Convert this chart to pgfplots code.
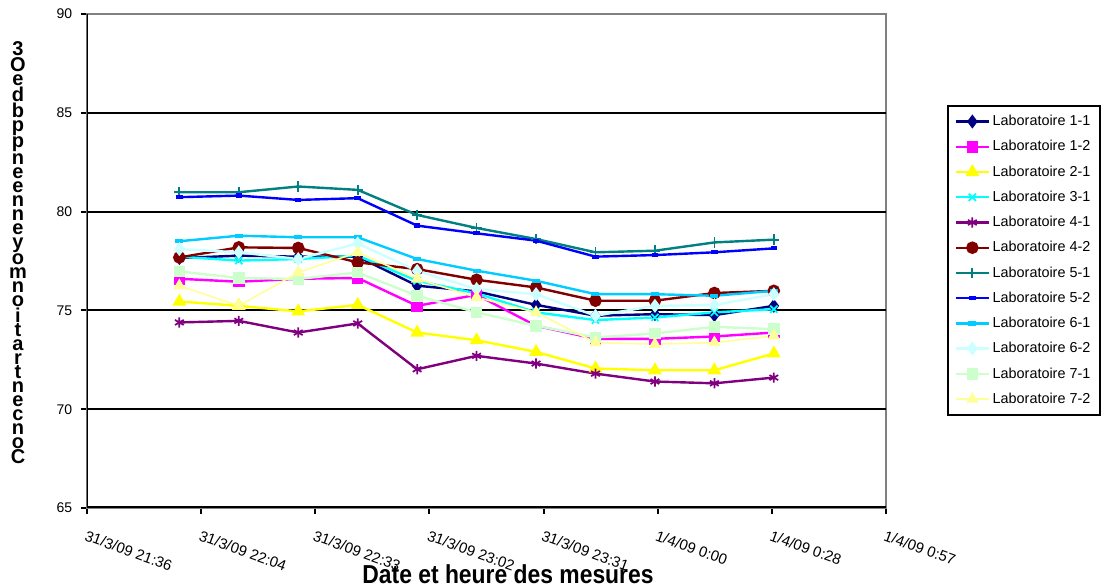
\documentclass[border=0pt]{standalone}
\usepackage{pgfplots}
\usepackage{pgfplotstable}
\pgfplotsset{compat=1.18}
\usepackage{fontspec}
\setmainfont{Liberation Sans}
\usetikzlibrary{plotmarks}

\definecolor{c11}{RGB}{0,0,128}
\definecolor{c12}{RGB}{255,0,255}
\definecolor{c21}{RGB}{255,255,0}
\definecolor{c31}{RGB}{0,255,255}
\definecolor{c41}{RGB}{128,0,128}
\definecolor{c42}{RGB}{128,0,0}
\definecolor{c51}{RGB}{0,128,128}
\definecolor{c52}{RGB}{0,0,255}
\definecolor{c61}{RGB}{0,204,255}
\definecolor{c62}{RGB}{204,255,255}
\definecolor{c71}{RGB}{204,255,204}
\definecolor{c72}{RGB}{255,255,153}

% minutes after 31/3/09 21:36
\pgfplotstableread{
t     l11   l12   l21   l31   l41   l42   l51   l52   l61   l62   l71   l72
23.3  77.65 76.60 75.45 77.72 74.39 77.68 80.98 80.73 78.50 78.10 76.97 76.25
38.3  77.77 76.45 75.23 77.52 74.47 78.19 80.98 80.81 78.78 77.94 76.64 75.23
53.3  77.72 76.60 74.95 77.60 73.88 78.16 81.27 80.59 78.70 77.60 76.59 76.92
68.3  77.72 76.64 75.28 77.77 74.34 77.43 81.10 80.68 78.70 78.39 76.92 77.94
83.3  76.25 75.23 73.88 76.50 72.02 77.09 79.83 79.29 77.60 77.00 75.74 76.59
98.3  75.96 75.79 73.49 75.86 72.70 76.55 79.17 78.90 77.01 76.08 74.90 75.66
113.3 75.28 74.22 72.90 74.90 72.31 76.16 78.61 78.53 76.50 75.82 74.22 74.90
128.3 74.73 73.56 72.06 74.51 71.80 75.49 77.94 77.72 75.82 74.73 73.63 73.37
143.3 74.81 73.56 71.97 74.64 71.40 75.49 78.02 77.80 75.82 75.23 73.83 73.29
158.3 74.76 73.68 71.97 74.90 71.31 75.88 78.44 77.94 75.74 75.27 74.17 73.37
173.3 75.23 73.88 72.82 75.06 71.60 75.99 78.58 78.14 75.99 75.82 74.05 73.71
}\labdata

\begin{document}
\begin{tikzpicture}
\useasboundingbox (-65.25pt,-60pt) rectangle (762.75pt,381pt);
\begin{axis}[
  at={(0,0)}, anchor=south west,
  scale only axis, width=599.25pt, height=370.5pt,
  xmin=0, xmax=201.6, ymin=65, ymax=90,
  axis line style={draw=gray, line width=0.8pt},
  tick align=outside, tick pos=left,
  major tick length=4.5pt,
  tick style={black, line width=1.5pt},
  xtick={0,28.8,57.6,86.4,115.2,144,172.8,201.6},
  xticklabels={31/3/09 21:36,31/3/09 22:04,31/3/09 22:33,31/3/09 23:02,31/3/09 23:31,1/4/09 0:00,1/4/09 0:28,1/4/09 0:57},
  x tick label style={rotate=-20, anchor=north west, xshift=1pt, yshift=-7.5pt, font=\fontsize{11.2}{12}\selectfont},
  ytick={65,70,75,80,85,90},
  y tick label style={font=\fontsize{10.5}{12}\selectfont, xshift=-3pt},
  /pgf/number format/assume math mode=true,
  extra y ticks={70,75,80,85},
  extra y tick labels={},
  extra y tick style={grid=major, major grid style={black, line width=1.5pt}, major tick length=0pt},
  every axis plot/.append style={line width=1.8pt, mark options={solid}},
  legend cell align=left,
  legend image code/.code={\draw[mark repeat=2,mark phase=2] plot coordinates {(0pt,0pt)(12.4pt,0pt)(24.75pt,0pt)};},
  legend style={at={(axis description cs:1.0763,0.8158)}, anchor=north west,
    draw=black, line width=1.5pt, font=\fontsize{10.8}{12}\selectfont,
    row sep=5.6pt, inner xsep=5pt, inner ysep=5pt},
]
\addplot[c11, mark=diamond*, mark size=3.8pt] table[x=t,y=l11]{\labdata};
\addlegendentry{Laboratoire 1-1}
\addplot[c12, mark=square*, mark size=3.4pt] table[x=t,y=l12]{\labdata};
\addlegendentry{Laboratoire 1-2}
\addplot[c21, mark=triangle*, mark size=4.2pt] table[x=t,y=l21]{\labdata};
\addlegendentry{Laboratoire 2-1}
\addplot[c31, mark=x, mark size=3.8pt, mark options={line width=1.3pt}] table[x=t,y=l31]{\labdata};
\addlegendentry{Laboratoire 3-1}
\addplot[c41, mark=asterisk, mark size=3.8pt, mark options={line width=1.3pt}] table[x=t,y=l41]{\labdata};
\addlegendentry{Laboratoire 4-1}
\addplot[c42, mark=*, mark size=3.8pt] table[x=t,y=l42]{\labdata};
\addlegendentry{Laboratoire 4-2}
\addplot[c51, mark=+, mark size=4pt, mark options={line width=1.3pt}] table[x=t,y=l51]{\labdata};
\addlegendentry{Laboratoire 5-1}
\addplot[c52, mark=-, mark size=2.4pt, mark options={line width=3.2pt}] table[x=t,y=l52]{\labdata};
\addlegendentry{Laboratoire 5-2}
\addplot[c61, mark=-, mark size=3pt, mark options={line width=3.2pt}] table[x=t,y=l61]{\labdata};
\addlegendentry{Laboratoire 6-1}
\addplot[c62, mark=diamond*, mark size=3.8pt] table[x=t,y=l62]{\labdata};
\addlegendentry{Laboratoire 6-2}
\addplot[c71, mark=square*, mark size=3.4pt] table[x=t,y=l71]{\labdata};
\addlegendentry{Laboratoire 7-1}
\addplot[c72, line width=1.2pt, mark=triangle*, mark size=4.2pt] table[x=t,y=l72]{\labdata};
\addlegendentry{Laboratoire 7-2}
\draw[black, line width=2.25pt] (rel axis cs:0,1) -- (rel axis cs:0,0) -- (rel axis cs:1,0);
\end{axis}
\node[font=\fontsize{19.5}{22}\selectfont\bfseries, xscale=0.88] at (315.75pt,-49.8pt) {Date et heure des mesures};
\node[font=\fontsize{15}{10.5}\selectfont\bfseries, align=center, inner sep=0pt] at (-51.75pt,191.25pt)
 {3\\O\\e\\d\\b\\p\\p\\n\\e\\e\\n\\n\\e\\y\\o\\m\\n\\o\\i\\t\\a\\r\\t\\n\\e\\c\\n\\o\\C};
\end{tikzpicture}
\end{document}
